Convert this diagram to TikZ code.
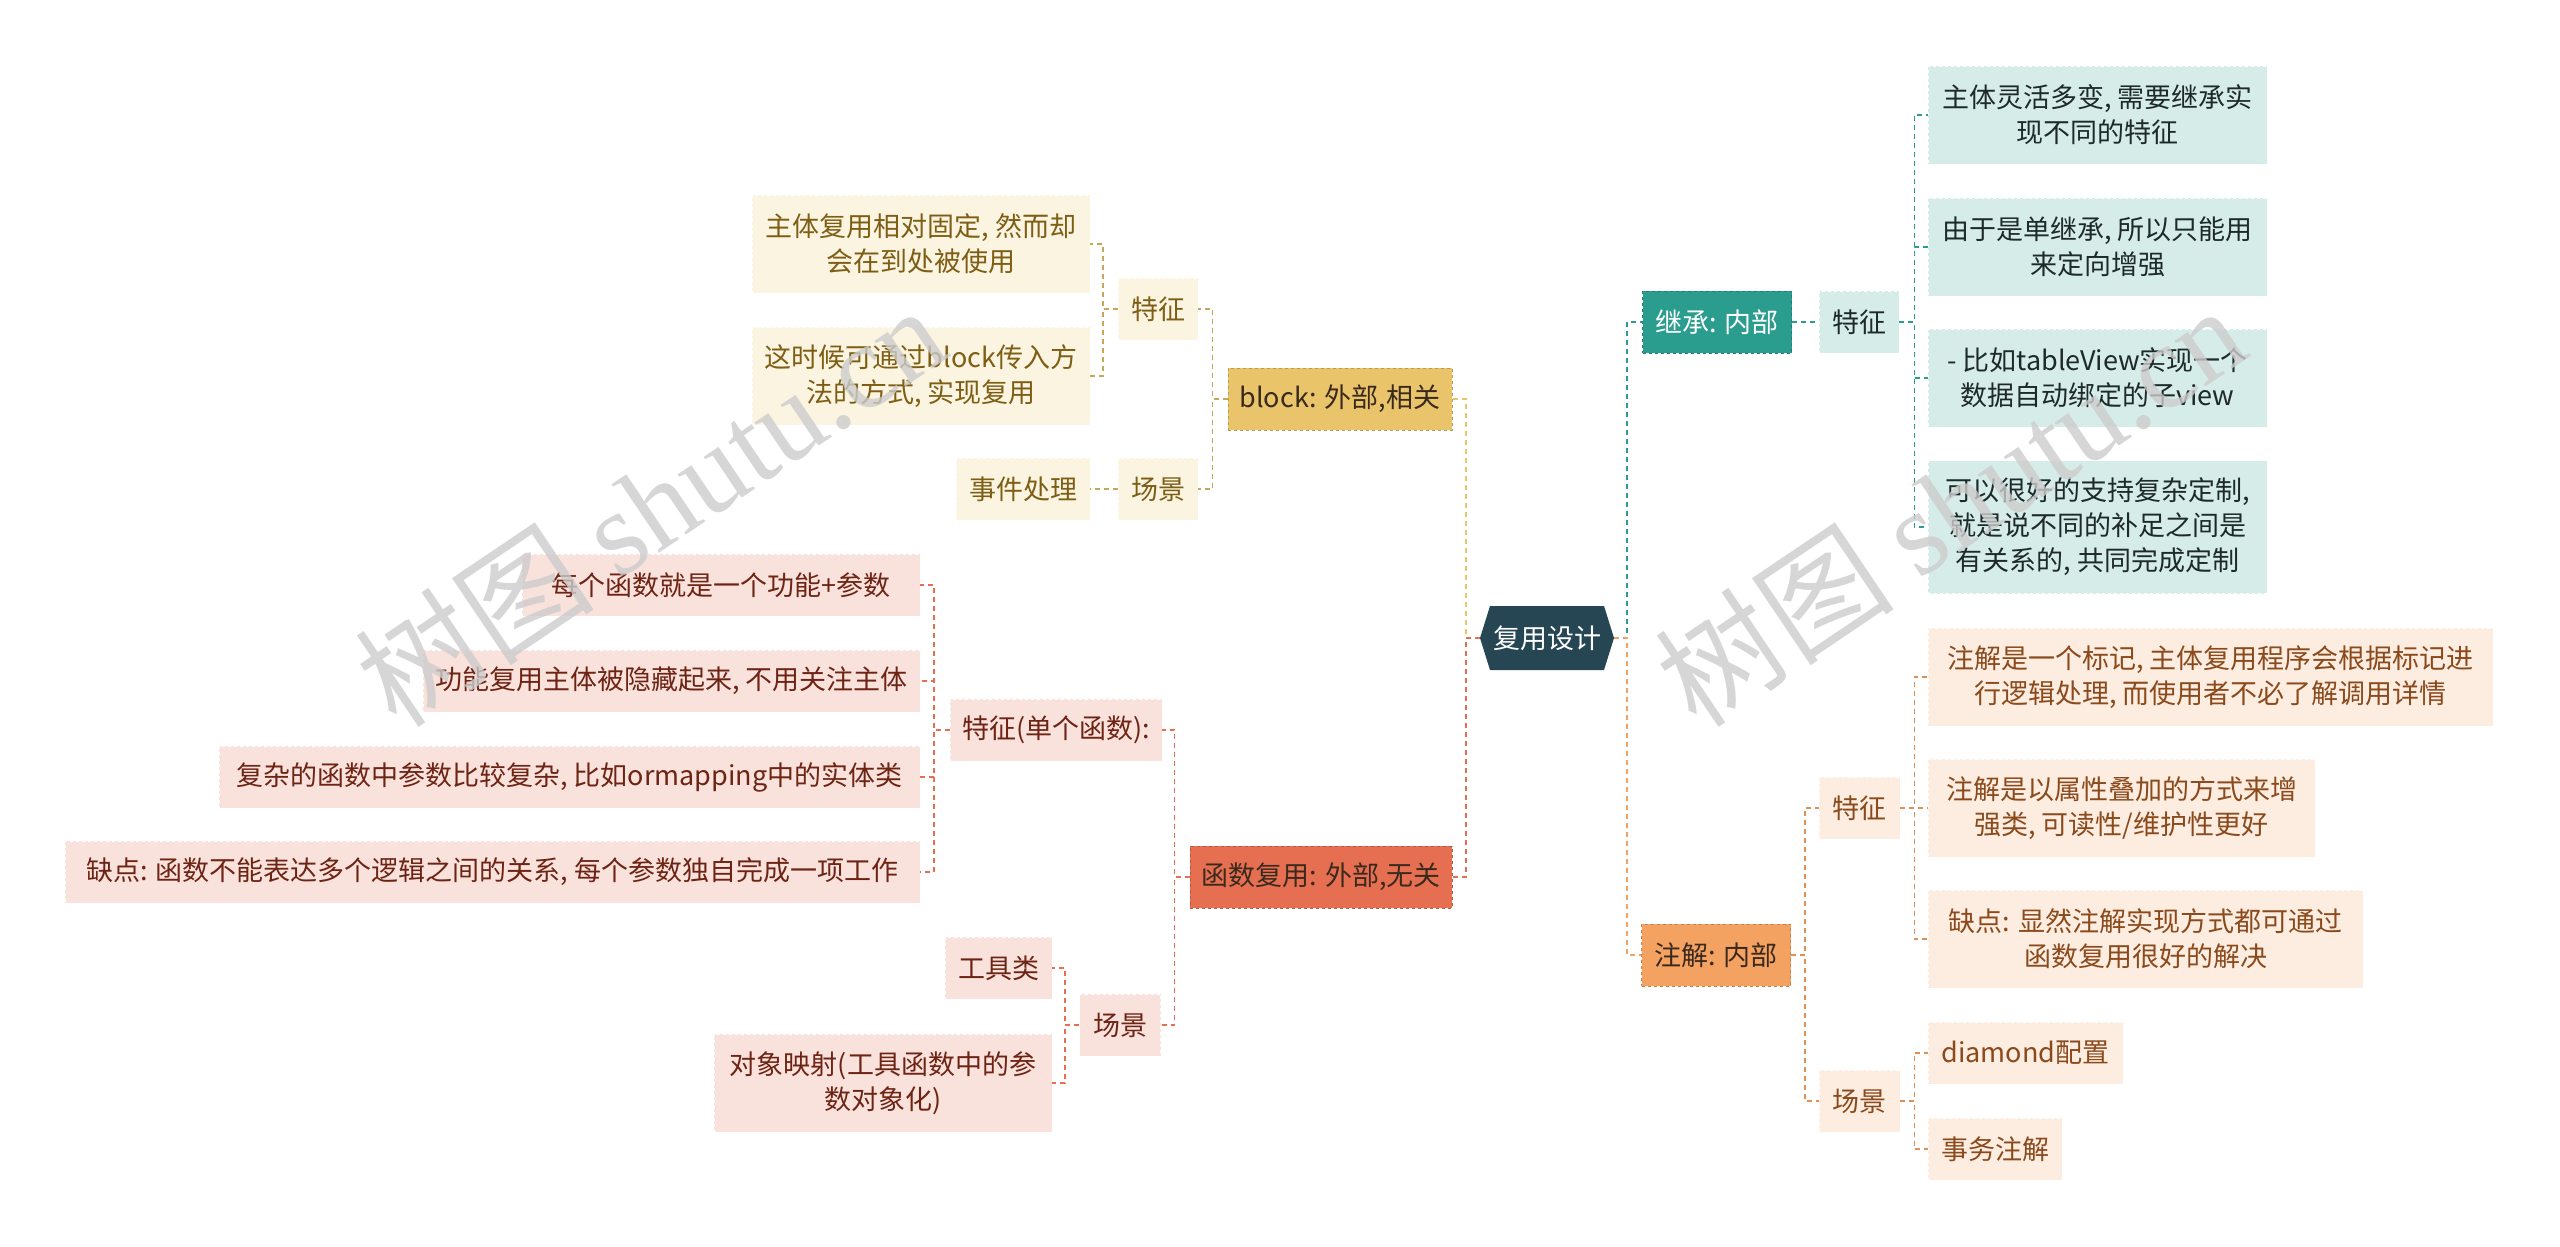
\documentclass[tikz,border=0pt]{standalone}
\usepackage{fontspec}
\setmainfont{Noto Sans CJK SC}
\newfontfamily\wmserif{Liberation Serif}
\newfontfamily\wmcjk{Noto Sans CJK SC}

\definecolor{rootc}{HTML}{264653}
\definecolor{tealc}{HTML}{2A9D8F}
\definecolor{goldc}{HTML}{E9C46A}
\definecolor{orgc}{HTML}{F4A261}
\definecolor{coralc}{HTML}{E76F51}
\definecolor{tealL}{HTML}{D6ECE9}
\definecolor{goldL}{HTML}{FBF4E1}
\definecolor{orgL}{HTML}{FDECE0}
\definecolor{coralL}{HTML}{F9E2DC}
\definecolor{goldT}{HTML}{7E5E14}
\definecolor{coralT}{HTML}{6E2414}
\definecolor{orgT}{HTML}{8A4A1C}
\definecolor{tealT}{HTML}{1E2A2A}
\definecolor{darkT}{HTML}{3A2A1E}
\definecolor{wmgray}{HTML}{CCCCCC}

\tikzset{
  base/.style={inner sep=0pt, align=center, font=\fontsize{27}{35}\selectfont},
  topnode/.style={base, draw=#1!80!black, dashed, line width=0.8pt, fill=#1},
  tchild/.style={base, fill=tealL, text=tealT, draw=white, dashed, line width=0.6pt},
  gchild/.style={base, fill=goldL, text=goldT, draw=white, dashed, line width=0.6pt},
  cchild/.style={base, fill=coralL, text=coralT, draw=white, dashed, line width=0.6pt},
  ochild/.style={base, fill=orgL, text=orgT, draw=white, dashed, line width=0.6pt},
  conn/.style={line width=2.2pt, dash pattern=on 5pt off 4pt},
  subconn/.style={line width=1.6pt, dash pattern=on 5pt off 4pt},
  wm/.style={text=wmgray, opacity=0.8, rotate=34, inner sep=0pt}
}

\begin{document}
\begin{tikzpicture}[x=1pt, y=-1pt]
\useasboundingbox (0,0) rectangle (2560,1247);
\fill[white] (0,0) rectangle (2560,1247);

% root hexagon
\fill[rootc] (1480,638) -- (1490,606) -- (1604,606) -- (1614,638) -- (1604,670) -- (1490,670) -- cycle;
\node[base, text=white, minimum width=134pt, minimum height=64pt] (root) at (1547,638) {复用设计};

% ---- left: block
\node[topnode=goldc, text=darkT, minimum width=224pt, minimum height=62pt] (bl) at (1340,399) {block: 外部,相关};
\node[gchild, minimum width=80pt, minimum height=62pt] (bt) at (1158,309) {特征};
\node[gchild, minimum width=80pt, minimum height=62pt] (bs) at (1158,489) {场景};
\node[gchild, minimum width=338pt, minimum height=98pt] (b1) at (921,244) {主体复用相对固定, 然而却\\会在到处被使用};
\node[gchild, minimum width=338pt, minimum height=98pt] (b2) at (921,376) {这时候可通过block传入方\\法的方式, 实现复用};
\node[gchild, minimum width=134pt, minimum height=62pt] (ev) at (1023,489) {事件处理};

% ---- left: function reuse
\node[topnode=coralc, text=darkT, minimum width=262pt, minimum height=62pt] (fn) at (1321,877) {函数复用: 外部,无关};
\node[cchild, minimum width=212pt, minimum height=62pt] (ft) at (1056,730) {特征(单个函数):};
\node[cchild, minimum width=81pt, minimum height=62pt] (fs) at (1120,1025) {场景};
\node[cchild, minimum width=398pt, minimum height=62pt] (f1) at (721,585) {每个函数就是一个功能+参数};
\node[cchild, minimum width=497pt, minimum height=62pt] (f2) at (671.5,681) {功能复用主体被隐藏起来, 不用关注主体};
\node[cchild, minimum width=701pt, minimum height=62pt] (f3) at (569.5,777) {复杂的函数中参数比较复杂, 比如ormapping中的实体类};
\node[cchild, minimum width=855pt, minimum height=62pt] (f4) at (492.5,872) {缺点: 函数不能表达多个逻辑之间的关系, 每个参数独自完成一项工作};
\node[cchild, minimum width=107pt, minimum height=62pt] (g1) at (998.5,968) {工具类};
\node[cchild, minimum width=338pt, minimum height=98pt] (g2) at (883,1083) {对象映射(工具函数中的参\\数对象化)};

% ---- right: inheritance
\node[topnode=tealc, text=white, minimum width=149pt, minimum height=62pt] (jc) at (1717,322) {继承: 内部};
\node[tchild, minimum width=80pt, minimum height=62pt] (jt) at (1859,322) {特征};
\node[tchild, minimum width=339pt, minimum height=98pt] (j1) at (2097.5,115) {主体灵活多变, 需要继承实\\现不同的特征};
\node[tchild, minimum width=339pt, minimum height=98pt] (j2) at (2097.5,247) {由于是单继承, 所以只能用\\来定向增强};
\node[tchild, minimum width=339pt, minimum height=98pt] (j3) at (2097.5,378) {- 比如tableView实现一个\\数据自动绑定的子view};
\node[tchild, minimum width=339pt, minimum height=133pt] (j4) at (2097.5,527) {可以很好的支持复杂定制,\\就是说不同的补足之间是\\有关系的, 共同完成定制};

% ---- right: annotation
\node[topnode=orgc, text=darkT, minimum width=149pt, minimum height=62pt] (zj) at (1716,955) {注解: 内部};
\node[ochild, minimum width=81pt, minimum height=62pt] (zt) at (1859.5,808) {特征};
\node[ochild, minimum width=81pt, minimum height=62pt] (zs) at (1859.5,1101) {场景};
\node[ochild, minimum width=565pt, minimum height=98pt] (z1) at (2210.5,677) {注解是一个标记, 主体复用程序会根据标记进\\行逻辑处理, 而使用者不必了解调用详情};
\node[ochild, minimum width=387pt, minimum height=98pt] (z2) at (2121.5,808) {注解是以属性叠加的方式来增\\强类, 可读性/维护性更好};
\node[ochild, minimum width=435pt, minimum height=98pt] (z3) at (2145.5,939) {缺点: 显然注解实现方式都可通过\\函数复用很好的解决};
\node[ochild, minimum width=195pt, minimum height=62pt] (z4) at (2025.5,1053) {diamond配置};
\node[ochild, minimum width=134pt, minimum height=62pt] (z5) at (1995,1149) {事务注解};

% ---- connectors from root
\draw[conn, goldc] (root.west) -- ++(-14,0) |- (bl.east);
\draw[conn, coralc] (root.west) -- ++(-14,0) |- (fn.east);
\draw[conn, tealc] (root.east) -- ++(13,0) |- (jc.west);
\draw[conn, orgc] (root.east) -- ++(13,0) |- (zj.west);

% block subtree
\draw[subconn, goldc!85!black] (bl.west) -- ++(-15,0) |- (bt.east);
\draw[subconn, goldc!85!black] (bl.west) -- ++(-15,0) |- (bs.east);
\draw[subconn, goldc!85!black] (bt.west) -- ++(-15,0) |- (b1.east);
\draw[subconn, goldc!85!black] (bt.west) -- ++(-15,0) |- (b2.east);
\draw[subconn, goldc!85!black] (bs.west) -- (ev.east);

% function subtree
\draw[subconn, coralc] (fn.west) -- ++(-15,0) |- (ft.east);
\draw[subconn, coralc] (fn.west) -- ++(-15,0) |- (fs.east);
\draw[subconn, coralc] (ft.west) -- ++(-16,0) |- (f1.east);
\draw[subconn, coralc] (ft.west) -- ++(-16,0) |- (f2.east);
\draw[subconn, coralc] (ft.west) -- ++(-16,0) |- (f3.east);
\draw[subconn, coralc] (ft.west) -- ++(-16,0) |- (f4.east);
\draw[subconn, coralc] (fs.west) -- ++(-14,0) |- (g1.east);
\draw[subconn, coralc] (fs.west) -- ++(-14,0) |- (g2.east);

% inheritance subtree
\draw[subconn, tealc] (jc.east) -- (jt.west);
\draw[subconn, tealc] (jt.east) -- ++(15,0) |- (j1.west);
\draw[subconn, tealc] (jt.east) -- ++(15,0) |- (j2.west);
\draw[subconn, tealc] (jt.east) -- ++(15,0) |- (j3.west);
\draw[subconn, tealc] (jt.east) -- ++(15,0) |- (j4.west);

% annotation subtree
\draw[subconn, orgc!90!black] (zj.east) -- ++(14,0) |- (zt.west);
\draw[subconn, orgc!90!black] (zj.east) -- ++(14,0) |- (zs.west);
\draw[subconn, orgc!90!black] (zt.east) -- ++(14,0) |- (z1.west);
\draw[subconn, orgc!90!black] (zt.east) -- ++(14,0) |- (z2.west);
\draw[subconn, orgc!90!black] (zt.east) -- ++(14,0) |- (z3.west);
\draw[subconn, orgc!90!black] (zs.east) -- ++(14,0) |- (z4.west);
\draw[subconn, orgc!90!black] (zs.east) -- ++(14,0) |- (z5.west);

% watermarks (as printed in the reference)
\node[wm] (wm1) at (650,505) {\fontsize{120}{120}\selectfont\wmcjk 树图 \wmserif shutu.cn};
\node[wm] (wm2) at (1950,505) {\fontsize{120}{120}\selectfont\wmcjk 树图 \wmserif shutu.cn};
\end{tikzpicture}
\end{document}
